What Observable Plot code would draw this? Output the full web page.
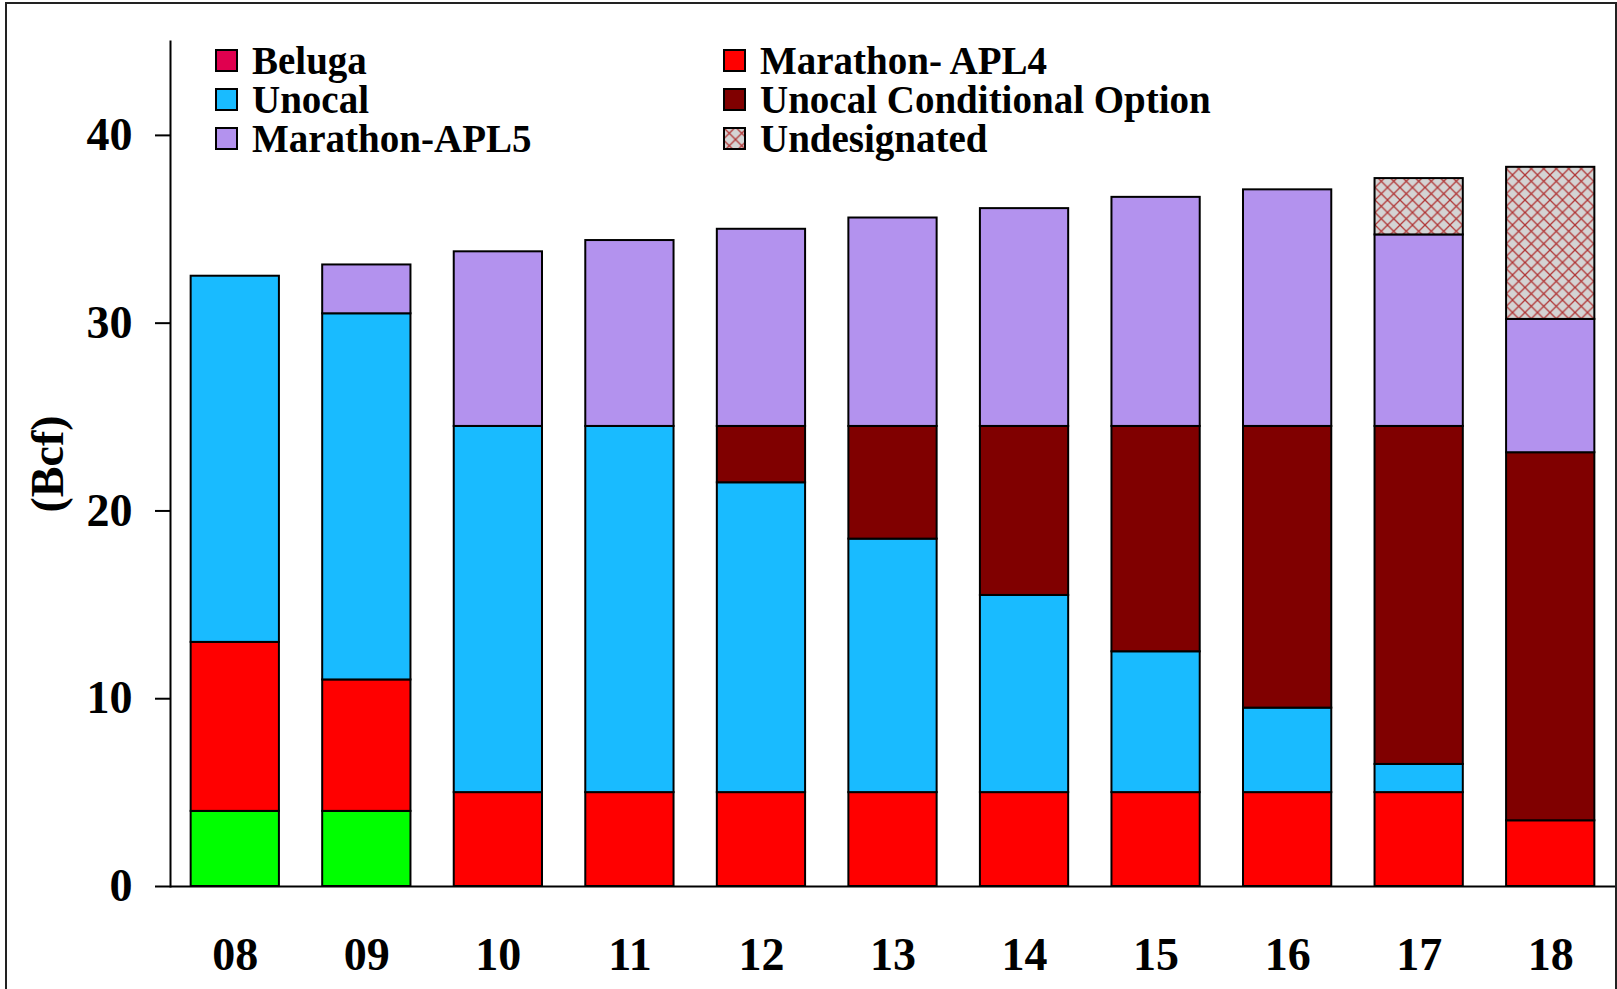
<!DOCTYPE html>
<html><head><meta charset="utf-8">
<script src="https://cdn.jsdelivr.net/npm/d3@7"></script>
<script src="https://cdn.jsdelivr.net/npm/@observablehq/plot@0.6"></script>
<style>
html,body{margin:0;padding:0;background:#fff;overflow:hidden;}
#wrap{position:relative;width:1617px;height:989px;}
#frame{position:absolute;left:5px;top:2px;width:1612px;height:1100px;border:2px solid #222;box-sizing:border-box;pointer-events:none;}
#legend{position:absolute;left:215px;top:41px;display:grid;grid-template-columns:508px 508px;font-family:"Liberation Serif";font-weight:bold;font-size:39px;line-height:39px;color:#000;}
.item{display:flex;align-items:center;height:39px;white-space:nowrap;}
.item svg{margin-right:14px;flex:none;}
</style></head>
<body><div id="wrap"><div id="chart"></div><div id="legend"></div><div id="frame"></div></div>
<script>
const years = ["08","09","10","11","12","13","14","15","16","17","18"];
const series = ["Beluga","Marathon- APL4","Unocal","Unocal Conditional Option","Marathon-APL5","Undesignated"];
const beluga       = [4, 4, 0, 0, 0, 0, 0, 0, 0, 0, 0];
const apl4         = [9, 7, 5, 5, 5, 5, 5, 5, 5, 5, 3.5];
const unocal       = [19.5, 19.5, 19.5, 19.5, 16.5, 13.5, 10.5, 7.5, 4.5, 1.5, 0];
const conditional  = [0, 0, 0, 0, 3, 6, 9, 12, 15, 18, 19.6];
const apl5         = [0, 2.6, 9.3, 9.9, 10.5, 11.1, 11.6, 12.2, 12.6, 10.2, 7.1];
const undesignated = [0, 0, 0, 0, 0, 0, 0, 0, 0, 3.0, 8.1];
const yTicks = [0, 10, 20, 30, 40];
const barColors = ["#00ff00","#ff0000","#19bbff","#800000","#b392ee","url(#hatch)"];
const legendColors = ["#e0004f","#ff0000","#19bbff","#800000","#b392ee","url(#hatch)"];

const values = [beluga, apl4, unocal, conditional, apl5, undesignated];
const rows = [];
series.forEach((s, si) => values[si].forEach((v, i) => { if (v > 0) rows.push({year: years[i], series: s, value: v}); }));

const defs = () => {
  const g = d3.create("svg:defs");
  const p = g.append("pattern").attr("id","hatch").attr("patternUnits","userSpaceOnUse").attr("width",12.5).attr("height",12.5);
  p.append("rect").attr("width",12.5).attr("height",12.5).attr("fill","#d4d4d4");
  p.append("path").attr("d","M0,0L12.5,12.5M12.5,0L0,12.5").attr("stroke","#b03535").attr("stroke-width",1.3);
  return g.node();
};

const chart = Plot.plot({
  width: 1617, height: 989,
  marginLeft: 170, marginRight: 2, marginTop: 41, marginBottom: 103,
  style: {fontFamily: "Liberation Serif", fontWeight: "bold", fontSize: "46px", color: "#000", background: "transparent", overflow: "visible"},
  x: {domain: years, paddingInner: 0.329, paddingOuter: 0.157, round: false, label: null},
  y: {domain: [0, 45], label: "(Bcf)"},
  color: {domain: series, range: barColors},
  marks: [
    defs,
    Plot.barY(rows, {x: "year", y: "value", fill: "series", stroke: "#000", strokeWidth: 2}),
    Plot.ruleY([0], {stroke: "#000", strokeWidth: 2}),
    Plot.axisY({ticks: yTicks, tickSize: 15, tickPadding: 23, tickFormat: d => d, fontSize: 46, strokeWidth: 2, label: "(Bcf)", labelAnchor: "center", labelOffset: 140, labelArrow: "none"}),
    Plot.axisX({tickSize: 0, tickPadding: 51, fontSize: 46, label: null}),
    Plot.frame({anchor: "left", stroke: "#000", strokeWidth: 2})
  ]
});
document.getElementById("chart").appendChild(chart);

const legend = d3.select("#legend");
series.forEach((s, i) => {
  const it = legend.append("div").attr("class", "item");
  const sv = it.append("svg").attr("width", 23).attr("height", 23);
  sv.append("rect").attr("x", 1).attr("y", 1).attr("width", 21).attr("height", 21).attr("fill", legendColors[i]).attr("stroke", "#000").attr("stroke-width", 2);
  it.append("span").text(s);
});
</script></body></html>
